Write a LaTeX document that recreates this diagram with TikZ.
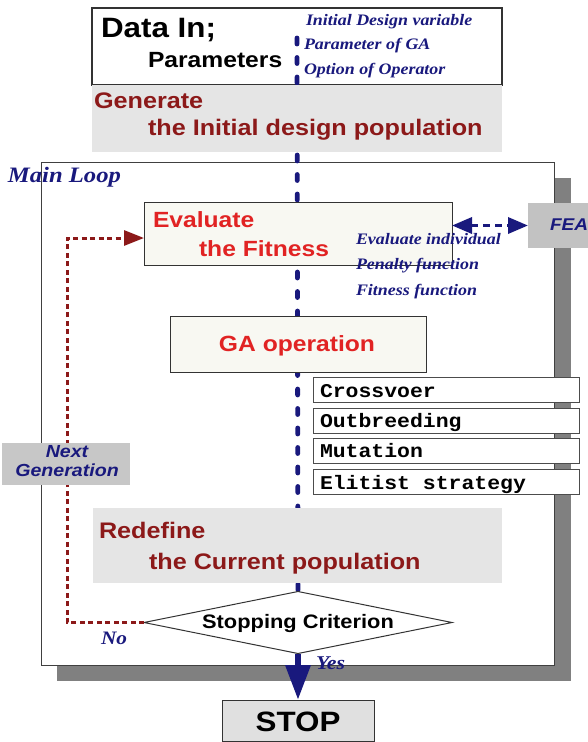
\documentclass[tikz,border=0pt]{standalone}
\usepackage{fontspec}
\usetikzlibrary{shapes.geometric,arrows.meta}
\newfontfamily\arialf{Liberation Sans}[FakeStretch=1.12]
\newfontfamily\timesf{Liberation Serif}[FakeStretch=1.12]
\newfontfamily\courf{Liberation Mono}[FakeStretch=1.1]
\definecolor{navy}{RGB}{25,25,125}
\definecolor{dred}{RGB}{140,25,25}
\definecolor{bred}{RGB}{225,35,35}
\definecolor{cream}{RGB}{248,248,242}
\pgfdeclarelayer{back}
\pgfdeclarelayer{mid}
\pgfsetlayers{back,mid,main}
\newcommand{\fs}[1]{\fontsize{#1}{#1}\selectfont}
\begin{document}
\begin{tikzpicture}[x=1pt,y=-1pt,
  plain/.style={inner sep=0pt, outer sep=0pt},
  framebox/.style={plain, draw=black!80, line width=1pt},
  graybox/.style={plain, fill=black!10},
  creambox/.style={framebox, fill=cream},
  opbox/.style={framebox, draw=black!70, fill=white, minimum width=266pt, minimum height=25pt},
  txt/.style={plain, anchor=base west},
  ctxt/.style={plain, anchor=base},
  blueit/.style={font=\timesf\bfseries\itshape\fs{16}, text=navy},
  bluedash/.style={navy, line width=4.8pt, line cap=round, dash pattern=on 6pt off 13.5pt},
  reddash/.style={dred, line width=3pt, dash pattern=on 5pt off 3.5pt, -{Triangle[width=15pt,length=20pt]}},
  feaarrow/.style={navy, line width=3.4pt, dash pattern=on 7pt off 5pt, {Triangle[width=16pt,length=20pt]}-{Triangle[width=16pt,length=20pt]}},
  yesarrow/.style={navy, line width=6.5pt, -{Triangle[width=24pt,length=35pt]}}
]
\useasboundingbox (0,0) rectangle (588,742);

\begin{pgfonlayer}{back}
  \node[plain, fill=black!50, minimum width=514pt, minimum height=503pt] (shadow) at (314,429.5) {};
  \node[framebox, draw=black!75, fill=white, minimum width=513pt, minimum height=503pt] (mainloop) at (297.5,413.5) {};
  \node[framebox, line width=1.3pt, fill=white, minimum width=410pt, minimum height=77pt] (data) at (297,46.5) {};
\end{pgfonlayer}

% boxes
\node[graybox, minimum width=410pt, minimum height=67pt] (gen) at (297,118.5) {};
\node[creambox, minimum width=308pt, minimum height=63pt] (eval) at (298,233.5) {};
\node[creambox, minimum width=256pt, minimum height=56pt] (ga) at (298,344) {};
\node[graybox, minimum width=409pt, minimum height=75pt] (redef) at (297.5,545.5) {};
\node[framebox, shape=diamond, fill=white, minimum width=308pt, minimum height=62pt] (diam) at (298,622.5) {};
\node[plain, fill=black!24, minimum width=62pt, minimum height=45pt] (fea) at (559,225.5) {};
\node[framebox, fill=black!12, minimum width=152pt, minimum height=41pt] (stop) at (298,720.5) {};

\node[opbox] (op1) at (446,390) {};
\node[opbox] (op2) at (446,420.5) {};
\node[opbox] (op3) at (446,450.5) {};
\node[opbox] (op4) at (446,482) {};

% main blue dashed line
\coordinate (ltop) at (297,38);
\begin{pgfonlayer}{mid}
  \draw[bluedash] (ltop) -- (diam.north);
\end{pgfonlayer}

% next generation loop
\coordinate (lc) at (67,238);
\draw[reddash] (diam.west) -| (lc) -- (lc -| eval.west);
\node[plain, fill=black!22, minimum width=128pt, minimum height=42pt] (next) at (66,464) {};

% FEA arrow
\draw[feaarrow] (eval.east |- fea.west) -- (fea.west);

% Yes arrow
\draw[yesarrow] (diam.south) -- (stop.north);

% texts
\node[txt, font=\arialf\bfseries\fs{28}] (tdata) at (101,37) {Data In;};
\node[txt, font=\arialf\bfseries\fs{22}] (tparam) at (148,67) {Parameters};
\node[txt, blueit] (ti1) at (306,25) {Initial Design variable};
\node[txt, blueit] (ti2) at (304,49) {Parameter of GA};
\node[txt, blueit] (ti3) at (304,74) {Option of Operator};

\node[txt, font=\arialf\bfseries\fs{22.5}, text=dred] (tgen1) at (94,108) {Generate};
\node[txt, font=\arialf\bfseries\fs{22.5}, text=dred] (tgen2) at (148,135) {the Initial design population};

\node[txt, font=\timesf\bfseries\itshape\fs{22}, text=navy] (tloop) at (8,182) {Main Loop};

\node[txt, font=\arialf\bfseries\fs{22}, text=bred] (tev1) at (153,227) {Evaluate};
\node[txt, font=\arialf\bfseries\fs{22}, text=bred] (tev2) at (199,256) {the Fitness};
\node[txt, blueit] (te1) at (356,244) {Evaluate individual};
\node[txt, blueit] (te2) at (356,269) {Penalty function};
\node[txt, blueit] (te3) at (356,295) {Fitness function};
\node[txt, font=\arialf\bfseries\itshape\fs{17}, text=navy] (tfea) at (550,230) {FEA};

\node[ctxt, font=\arialf\bfseries\fs{22}, text=bred] (tga) at (297,351) {GA operation};

\node[txt, font=\courf\bfseries\fs{19.5}] (to1) at (320,397) {Crossvoer};
\node[txt, font=\courf\bfseries\fs{19.5}] (to2) at (320,427.5) {Outbreeding};
\node[txt, font=\courf\bfseries\fs{19.5}] (to3) at (320,457.5) {Mutation};
\node[txt, font=\courf\bfseries\fs{19.5}] (to4) at (320,489) {Elitist strategy};

\node[ctxt, font=\arialf\bfseries\itshape\fs{17.5}, text=navy] (tnx1) at (67,457) {Next};
\node[ctxt, font=\arialf\bfseries\itshape\fs{17.5}, text=navy] (tnx2) at (67,476) {Generation};

\node[txt, font=\arialf\bfseries\fs{22.5}, text=dred] (tre1) at (99,538) {Redefine};
\node[txt, font=\arialf\bfseries\fs{22.5}, text=dred] (tre2) at (149,569) {the Current population};

\node[ctxt, font=\arialf\bfseries\fs{19.5}] (tstopc) at (298,628) {Stopping Criterion};
\node[txt, font=\timesf\bfseries\itshape\fs{19}, text=navy] (tno) at (101,644) {No};
\node[txt, font=\timesf\bfseries\itshape\fs{19.5}, text=navy] (tyes) at (316,669) {Yes};
\node[ctxt, font=\arialf\bfseries\fs{28}] (tstop) at (298,731) {STOP};
\end{tikzpicture}
\end{document}
